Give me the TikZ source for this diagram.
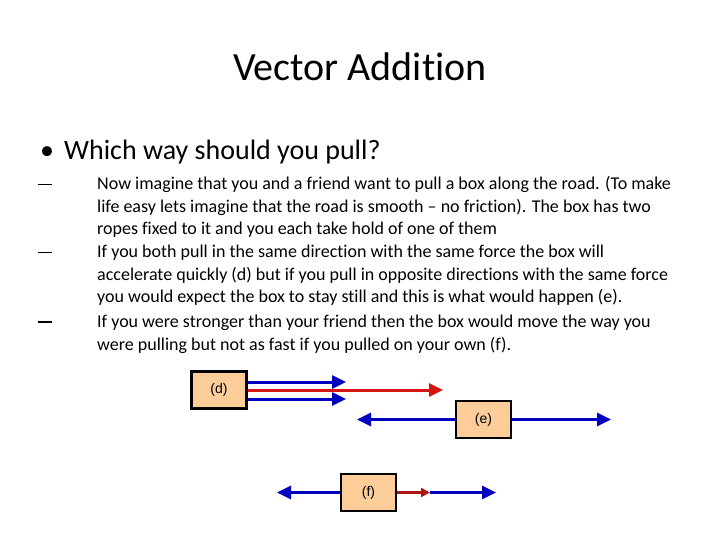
\documentclass[tikz,border=0pt]{standalone}
\usepackage{fontspec}
\setmainfont[Ligatures=NoCommon]{Carlito}
\newfontfamily\arialf{Liberation Sans}
\usetikzlibrary{arrows.meta}
\begin{document}
\begin{tikzpicture}[x=1pt,y=-1pt,
  box/.style={draw=black,line width=2.2pt,fill={rgb,255:red,252;green,205;blue,153},inner sep=0pt,font=\arialf\fontsize{14}{16}\selectfont},
  bl/.style={draw={rgb,255:red,0;green,0;blue,190},line width=3pt,-{Triangle[length=14pt,width=13pt]}},
  rd/.style={draw={rgb,255:red,215;green,20;blue,20},line width=3pt,-{Triangle[length=14pt,width=13pt]}},
  dsh/.style={anchor=base west,inner sep=0pt,font=\fontsize{18}{20}\selectfont},
  ln/.style={anchor=base west,inner sep=0pt,font=\fontsize{18}{20}\selectfont}]
\useasboundingbox (0,0) rectangle (720,540);
\node[font=\fontsize{40}{48}\selectfont] (title) at (360,67) {Vector Addition};
\node[anchor=base west,inner sep=0pt,font=\fontsize{28}{32}\selectfont] (b1) at (40,160) {•\hspace{10pt}Which way should you pull?};
\node[dsh] (d1) at (38,190) {\rule[4.5pt]{14pt}{1.2pt}};
\node[dsh] (d2) at (38,258) {\rule[4.5pt]{14pt}{1.2pt}};
\node[dsh] (d3) at (38,327) {\rule[4.5pt]{14pt}{1.2pt}};
\node[ln] (l1) at (97,190) {Now imagine that you and a friend want to pull a box along the road. (To make};
\node[ln] (l2) at (97,212) {life easy lets imagine that the road is smooth – no friction). The box has two};
\node[ln] (l3) at (97,234) {ropes fixed to it and you each take hold of one of them};
\node[ln] (l4) at (97,258) {If you both pull in the same direction with the same force the box will};
\node[ln] (l5) at (97,280) {accelerate quickly (d) but if you pull in opposite directions with the same force};
\node[ln] (l6) at (97,302) {you would expect the box to stay still and this is what would happen (e).};
\node[ln] (l7) at (97,327) {If you were stronger than your friend then the box would move the way you};
\node[ln] (l8) at (97,350) {were pulling but not as fast if you pulled on your own (f).};
% (d)
\coordinate (dt) at (346,382); \coordinate (dr) at (443,390); \coordinate (db) at (346,399);
\draw[bl] (247,382) -- (dt);
\draw[bl] (247,399) -- (db);
\draw[rd] (247,390) -- (dr);
\node[box,minimum width=55pt,minimum height=37pt] (d) at (219,390) {(d)};
% (e)
\node[box,minimum width=55pt,minimum height=37pt] (e) at (483.5,419.5) {(e)};
\coordinate (el) at (357,419.5); \coordinate (er) at (611,419.5);
\draw[bl] (e.west) -- (el);
\draw[bl] (e.east) -- (er);
% (f)
\node[box,minimum width=55pt,minimum height=37pt] (f) at (368.5,492.5) {(f)};
\coordinate (fl) at (277,492.5); \coordinate (fm) at (430,492.5); \coordinate (fr) at (496,492.5);
\draw[bl] (f.west) -- (fl);
\draw[bl] (fm) -- (fr);
\draw[draw={rgb,255:red,175;green,20;blue,20},line width=3pt,-{Triangle[length=9pt,width=9pt]},fill={rgb,255:red,215;green,20;blue,20}] (f.east) -- (fm);
\end{tikzpicture}
\end{document}
